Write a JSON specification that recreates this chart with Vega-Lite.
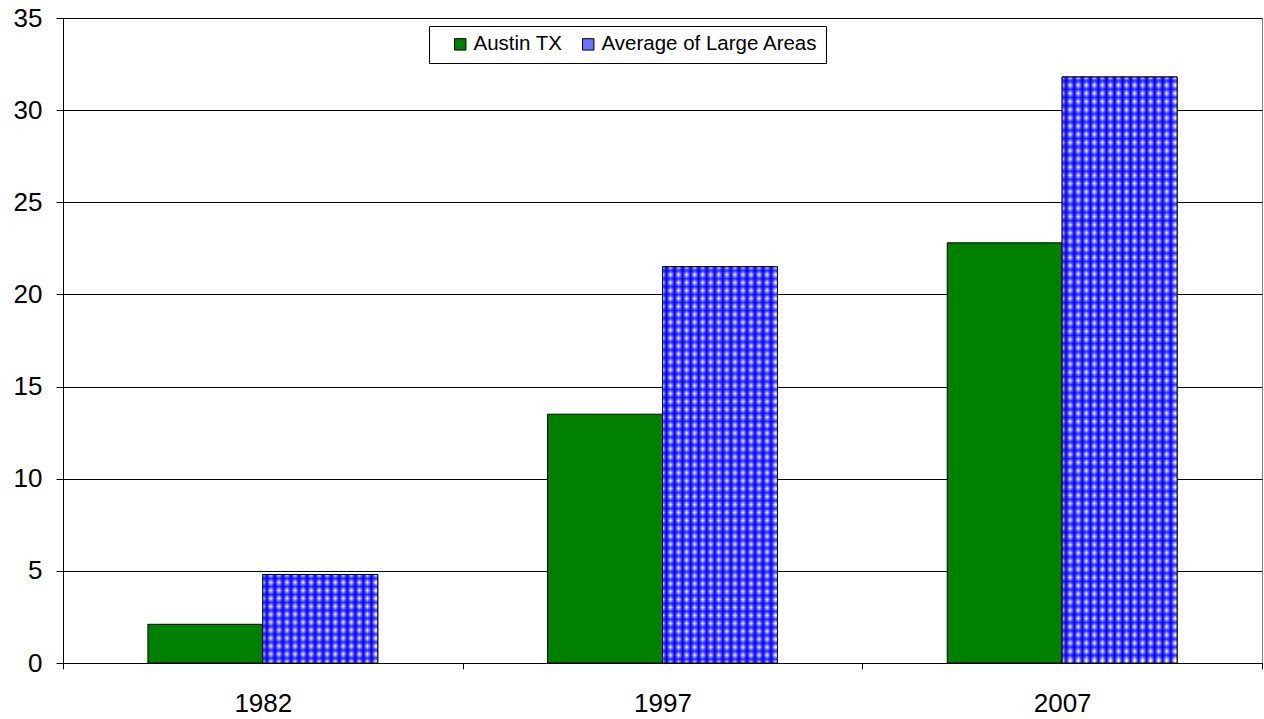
{
  "$schema": "https://vega.github.io/schema/vega-lite/v6.json",
  "width": 1199,
  "height": 645,
  "autosize": {"type": "none"},
  "padding": {"left": 63, "top": 18, "right": 2, "bottom": 56},
  "background": "white",
  "config": {
    "font": "Liberation Sans",
    "view": {"stroke": "#808080", "strokeWidth": 1}
  },
  "data": {
    "values": [
      {"year": "1982", "series": "Austin TX", "value": 2.1},
      {"year": "1982", "series": "Average of Large Areas", "value": 4.8},
      {"year": "1997", "series": "Austin TX", "value": 13.5},
      {"year": "1997", "series": "Average of Large Areas", "value": 21.5},
      {"year": "2007", "series": "Austin TX", "value": 22.8},
      {"year": "2007", "series": "Average of Large Areas", "value": 31.8}
    ]
  },
  "encoding": {
    "x": {
      "field": "year", "type": "nominal",
      "scale": {"paddingInner": 0, "paddingOuter": 0},
      "axis": {
        "title": null, "labelAngle": 0, "labelFontSize": 26, "labelColor": "black",
        "labelPadding": 21, "tickBand": "extent", "tickSize": 6, "tickColor": "black",
        "domainColor": "black", "grid": false
      }
    },
    "xOffset": {
      "field": "series", "type": "nominal",
      "scale": {"paddingInner": 0, "paddingOuter": 0.739}
    },
    "y": {
      "field": "value", "type": "quantitative",
      "scale": {"domain": [0, 35], "nice": false},
      "axis": {
        "title": null, "values": [0, 5, 10, 15, 20, 25, 30, 35],
        "labelFontSize": 26, "labelColor": "black", "labelPadding": 14,
        "tickSize": 7, "tickColor": "black", "domainColor": "black",
        "grid": true, "gridColor": "black", "gridOpacity": 1, "gridWidth": 1
      }
    }
  },
  "layer": [
    {
      "mark": {"type": "bar", "stroke": "black", "strokeWidth": 1},
      "encoding": {
        "fill": {
          "field": "series", "type": "nominal",
          "scale": {"range": ["#008000", "#7070ff"]},
          "legend": {
            "title": null, "orient": "none", "legendX": 366, "legendY": 8,
            "direction": "horizontal", "strokeColor": "black", "fillColor": "white",
            "padding": 8, "symbolOffset": 13, "columnPadding": 2,
            "symbolType": "square", "symbolSize": 130, "symbolStrokeColor": "black",
            "symbolStrokeWidth": 1, "labelFontSize": 20.5, "labelColor": "black",
            "labelOffset": 3, "labelFont": "Liberation Sans", "labelLimit": 600,
            "labelExpr": "datum.label === 'Average of Large Areas' ? datum.label + '\u00a0\u00a0\u00a0\u00a0' : datum.label"
          }
        }
      }
    },
    {
      "transform": [{"filter": "datum.series === 'Average of Large Areas'"}],
      "mark": {
        "type": "bar",
        "fill": {
          "gradient": "linear", "x1": 0, "y1": 0, "x2": 1, "y2": 0,
          "stops": [
            {"offset": 0, "color": "#fff"}, {"offset": 0.035, "color": "#00f"},
            {"offset": 0.07, "color": "#fff"}, {"offset": 0.105, "color": "#00f"},
            {"offset": 0.14, "color": "#fff"}, {"offset": 0.175, "color": "#00f"},
            {"offset": 0.21, "color": "#fff"}, {"offset": 0.245, "color": "#00f"},
            {"offset": 0.28, "color": "#fff"}, {"offset": 0.315, "color": "#00f"},
            {"offset": 0.35, "color": "#fff"}, {"offset": 0.385, "color": "#00f"},
            {"offset": 0.42, "color": "#fff"}, {"offset": 0.455, "color": "#00f"},
            {"offset": 0.49, "color": "#fff"}, {"offset": 0.525, "color": "#00f"},
            {"offset": 0.56, "color": "#fff"}, {"offset": 0.595, "color": "#00f"},
            {"offset": 0.63, "color": "#fff"}, {"offset": 0.665, "color": "#00f"},
            {"offset": 0.7, "color": "#fff"}, {"offset": 0.735, "color": "#00f"},
            {"offset": 0.77, "color": "#fff"}, {"offset": 0.805, "color": "#00f"},
            {"offset": 0.84, "color": "#fff"}, {"offset": 0.875, "color": "#00f"},
            {"offset": 0.91, "color": "#fff"}, {"offset": 0.945, "color": "#00f"},
            {"offset": 0.98, "color": "#fff"}
          ]
        }
      }
    },
    {
      "transform": [{"filter": "datum.series === 'Average of Large Areas' && datum.year === '1982'"}],
      "mark": {
        "type": "bar", "fillOpacity": 0.8,
        "fill": {
          "gradient": "linear", "x1": 0, "y1": 0, "x2": 0, "y2": 1,
          "stops": [
            {"offset": 0, "color": "rgba(0,0,255,0)"}, {"offset": 0.045, "color": "#00f"},
            {"offset": 0.09, "color": "rgba(0,0,255,0)"}, {"offset": 0.135, "color": "#00f"},
            {"offset": 0.18, "color": "rgba(0,0,255,0)"}, {"offset": 0.225, "color": "#00f"},
            {"offset": 0.27, "color": "rgba(0,0,255,0)"}, {"offset": 0.315, "color": "#00f"},
            {"offset": 0.36, "color": "rgba(0,0,255,0)"}, {"offset": 0.405, "color": "#00f"},
            {"offset": 0.45, "color": "rgba(0,0,255,0)"}, {"offset": 0.495, "color": "#00f"},
            {"offset": 0.54, "color": "rgba(0,0,255,0)"}, {"offset": 0.585, "color": "#00f"},
            {"offset": 0.63, "color": "rgba(0,0,255,0)"}, {"offset": 0.675, "color": "#00f"},
            {"offset": 0.72, "color": "rgba(0,0,255,0)"}, {"offset": 0.765, "color": "#00f"},
            {"offset": 0.81, "color": "rgba(0,0,255,0)"}, {"offset": 0.855, "color": "#00f"},
            {"offset": 0.9, "color": "rgba(0,0,255,0)"}, {"offset": 0.945, "color": "#00f"},
            {"offset": 0.99, "color": "rgba(0,0,255,0)"}
          ]
        }
      }
    },
    {
      "transform": [{"filter": "datum.series === 'Average of Large Areas' && datum.year === '1997'"}],
      "mark": {
        "type": "bar", "fillOpacity": 0.8,
        "fill": {
          "gradient": "linear", "x1": 0, "y1": 0, "x2": 0, "y2": 1,
          "stops": [
            {"offset": 0, "color": "rgba(0,0,255,0)"}, {"offset": 0.01, "color": "#00f"},
            {"offset": 0.02, "color": "rgba(0,0,255,0)"}, {"offset": 0.03, "color": "#00f"},
            {"offset": 0.04, "color": "rgba(0,0,255,0)"}, {"offset": 0.05, "color": "#00f"},
            {"offset": 0.06, "color": "rgba(0,0,255,0)"}, {"offset": 0.07, "color": "#00f"},
            {"offset": 0.08, "color": "rgba(0,0,255,0)"}, {"offset": 0.09, "color": "#00f"},
            {"offset": 0.1, "color": "rgba(0,0,255,0)"}, {"offset": 0.11, "color": "#00f"},
            {"offset": 0.12, "color": "rgba(0,0,255,0)"}, {"offset": 0.13, "color": "#00f"},
            {"offset": 0.14, "color": "rgba(0,0,255,0)"}, {"offset": 0.15, "color": "#00f"},
            {"offset": 0.16, "color": "rgba(0,0,255,0)"}, {"offset": 0.17, "color": "#00f"},
            {"offset": 0.18, "color": "rgba(0,0,255,0)"}, {"offset": 0.19, "color": "#00f"},
            {"offset": 0.2, "color": "rgba(0,0,255,0)"}, {"offset": 0.21, "color": "#00f"},
            {"offset": 0.22, "color": "rgba(0,0,255,0)"}, {"offset": 0.23, "color": "#00f"},
            {"offset": 0.24, "color": "rgba(0,0,255,0)"}, {"offset": 0.25, "color": "#00f"},
            {"offset": 0.26, "color": "rgba(0,0,255,0)"}, {"offset": 0.27, "color": "#00f"},
            {"offset": 0.28, "color": "rgba(0,0,255,0)"}, {"offset": 0.29, "color": "#00f"},
            {"offset": 0.3, "color": "rgba(0,0,255,0)"}, {"offset": 0.31, "color": "#00f"},
            {"offset": 0.32, "color": "rgba(0,0,255,0)"}, {"offset": 0.33, "color": "#00f"},
            {"offset": 0.34, "color": "rgba(0,0,255,0)"}, {"offset": 0.35, "color": "#00f"},
            {"offset": 0.36, "color": "rgba(0,0,255,0)"}, {"offset": 0.37, "color": "#00f"},
            {"offset": 0.38, "color": "rgba(0,0,255,0)"}, {"offset": 0.39, "color": "#00f"},
            {"offset": 0.4, "color": "rgba(0,0,255,0)"}, {"offset": 0.41, "color": "#00f"},
            {"offset": 0.42, "color": "rgba(0,0,255,0)"}, {"offset": 0.43, "color": "#00f"},
            {"offset": 0.44, "color": "rgba(0,0,255,0)"}, {"offset": 0.45, "color": "#00f"},
            {"offset": 0.46, "color": "rgba(0,0,255,0)"}, {"offset": 0.47, "color": "#00f"},
            {"offset": 0.48, "color": "rgba(0,0,255,0)"}, {"offset": 0.49, "color": "#00f"},
            {"offset": 0.5, "color": "rgba(0,0,255,0)"}, {"offset": 0.51, "color": "#00f"},
            {"offset": 0.52, "color": "rgba(0,0,255,0)"}, {"offset": 0.53, "color": "#00f"},
            {"offset": 0.54, "color": "rgba(0,0,255,0)"}, {"offset": 0.55, "color": "#00f"},
            {"offset": 0.56, "color": "rgba(0,0,255,0)"}, {"offset": 0.57, "color": "#00f"},
            {"offset": 0.58, "color": "rgba(0,0,255,0)"}, {"offset": 0.59, "color": "#00f"},
            {"offset": 0.6, "color": "rgba(0,0,255,0)"}, {"offset": 0.61, "color": "#00f"},
            {"offset": 0.62, "color": "rgba(0,0,255,0)"}, {"offset": 0.63, "color": "#00f"},
            {"offset": 0.64, "color": "rgba(0,0,255,0)"}, {"offset": 0.65, "color": "#00f"},
            {"offset": 0.66, "color": "rgba(0,0,255,0)"}, {"offset": 0.67, "color": "#00f"},
            {"offset": 0.68, "color": "rgba(0,0,255,0)"}, {"offset": 0.69, "color": "#00f"},
            {"offset": 0.7, "color": "rgba(0,0,255,0)"}, {"offset": 0.71, "color": "#00f"},
            {"offset": 0.72, "color": "rgba(0,0,255,0)"}, {"offset": 0.73, "color": "#00f"},
            {"offset": 0.74, "color": "rgba(0,0,255,0)"}, {"offset": 0.75, "color": "#00f"},
            {"offset": 0.76, "color": "rgba(0,0,255,0)"}, {"offset": 0.77, "color": "#00f"},
            {"offset": 0.78, "color": "rgba(0,0,255,0)"}, {"offset": 0.79, "color": "#00f"},
            {"offset": 0.8, "color": "rgba(0,0,255,0)"}, {"offset": 0.81, "color": "#00f"},
            {"offset": 0.82, "color": "rgba(0,0,255,0)"}, {"offset": 0.83, "color": "#00f"},
            {"offset": 0.84, "color": "rgba(0,0,255,0)"}, {"offset": 0.85, "color": "#00f"},
            {"offset": 0.86, "color": "rgba(0,0,255,0)"}, {"offset": 0.87, "color": "#00f"},
            {"offset": 0.88, "color": "rgba(0,0,255,0)"}, {"offset": 0.89, "color": "#00f"},
            {"offset": 0.9, "color": "rgba(0,0,255,0)"}, {"offset": 0.91, "color": "#00f"},
            {"offset": 0.92, "color": "rgba(0,0,255,0)"}, {"offset": 0.93, "color": "#00f"},
            {"offset": 0.94, "color": "rgba(0,0,255,0)"}, {"offset": 0.95, "color": "#00f"},
            {"offset": 0.96, "color": "rgba(0,0,255,0)"}, {"offset": 0.97, "color": "#00f"},
            {"offset": 0.98, "color": "rgba(0,0,255,0)"}, {"offset": 0.99, "color": "#00f"},
            {"offset": 1, "color": "rgba(0,0,255,0)"}
          ]
        }
      }
    },
    {
      "transform": [{"filter": "datum.series === 'Average of Large Areas' && datum.year === '2007'"}],
      "mark": {
        "type": "bar", "fillOpacity": 0.8,
        "fill": {
          "gradient": "linear", "x1": 0, "y1": 0, "x2": 0, "y2": 1,
          "stops": [
            {"offset": 0, "color": "rgba(0,0,255,0)"}, {"offset": 0.007, "color": "#00f"},
            {"offset": 0.014, "color": "rgba(0,0,255,0)"}, {"offset": 0.021, "color": "#00f"},
            {"offset": 0.028, "color": "rgba(0,0,255,0)"}, {"offset": 0.035, "color": "#00f"},
            {"offset": 0.042, "color": "rgba(0,0,255,0)"}, {"offset": 0.049, "color": "#00f"},
            {"offset": 0.056, "color": "rgba(0,0,255,0)"}, {"offset": 0.063, "color": "#00f"},
            {"offset": 0.07, "color": "rgba(0,0,255,0)"}, {"offset": 0.077, "color": "#00f"},
            {"offset": 0.084, "color": "rgba(0,0,255,0)"}, {"offset": 0.091, "color": "#00f"},
            {"offset": 0.098, "color": "rgba(0,0,255,0)"}, {"offset": 0.105, "color": "#00f"},
            {"offset": 0.112, "color": "rgba(0,0,255,0)"}, {"offset": 0.119, "color": "#00f"},
            {"offset": 0.126, "color": "rgba(0,0,255,0)"}, {"offset": 0.133, "color": "#00f"},
            {"offset": 0.14, "color": "rgba(0,0,255,0)"}, {"offset": 0.147, "color": "#00f"},
            {"offset": 0.154, "color": "rgba(0,0,255,0)"}, {"offset": 0.161, "color": "#00f"},
            {"offset": 0.168, "color": "rgba(0,0,255,0)"}, {"offset": 0.175, "color": "#00f"},
            {"offset": 0.182, "color": "rgba(0,0,255,0)"}, {"offset": 0.189, "color": "#00f"},
            {"offset": 0.196, "color": "rgba(0,0,255,0)"}, {"offset": 0.203, "color": "#00f"},
            {"offset": 0.21, "color": "rgba(0,0,255,0)"}, {"offset": 0.217, "color": "#00f"},
            {"offset": 0.224, "color": "rgba(0,0,255,0)"}, {"offset": 0.231, "color": "#00f"},
            {"offset": 0.238, "color": "rgba(0,0,255,0)"}, {"offset": 0.245, "color": "#00f"},
            {"offset": 0.252, "color": "rgba(0,0,255,0)"}, {"offset": 0.259, "color": "#00f"},
            {"offset": 0.266, "color": "rgba(0,0,255,0)"}, {"offset": 0.273, "color": "#00f"},
            {"offset": 0.28, "color": "rgba(0,0,255,0)"}, {"offset": 0.287, "color": "#00f"},
            {"offset": 0.294, "color": "rgba(0,0,255,0)"}, {"offset": 0.301, "color": "#00f"},
            {"offset": 0.308, "color": "rgba(0,0,255,0)"}, {"offset": 0.315, "color": "#00f"},
            {"offset": 0.322, "color": "rgba(0,0,255,0)"}, {"offset": 0.329, "color": "#00f"},
            {"offset": 0.336, "color": "rgba(0,0,255,0)"}, {"offset": 0.343, "color": "#00f"},
            {"offset": 0.35, "color": "rgba(0,0,255,0)"}, {"offset": 0.357, "color": "#00f"},
            {"offset": 0.364, "color": "rgba(0,0,255,0)"}, {"offset": 0.371, "color": "#00f"},
            {"offset": 0.378, "color": "rgba(0,0,255,0)"}, {"offset": 0.385, "color": "#00f"},
            {"offset": 0.392, "color": "rgba(0,0,255,0)"}, {"offset": 0.399, "color": "#00f"},
            {"offset": 0.406, "color": "rgba(0,0,255,0)"}, {"offset": 0.413, "color": "#00f"},
            {"offset": 0.42, "color": "rgba(0,0,255,0)"}, {"offset": 0.427, "color": "#00f"},
            {"offset": 0.434, "color": "rgba(0,0,255,0)"}, {"offset": 0.441, "color": "#00f"},
            {"offset": 0.448, "color": "rgba(0,0,255,0)"}, {"offset": 0.455, "color": "#00f"},
            {"offset": 0.462, "color": "rgba(0,0,255,0)"}, {"offset": 0.469, "color": "#00f"},
            {"offset": 0.476, "color": "rgba(0,0,255,0)"}, {"offset": 0.483, "color": "#00f"},
            {"offset": 0.49, "color": "rgba(0,0,255,0)"}, {"offset": 0.497, "color": "#00f"},
            {"offset": 0.504, "color": "rgba(0,0,255,0)"}, {"offset": 0.511, "color": "#00f"},
            {"offset": 0.518, "color": "rgba(0,0,255,0)"}, {"offset": 0.525, "color": "#00f"},
            {"offset": 0.532, "color": "rgba(0,0,255,0)"}, {"offset": 0.539, "color": "#00f"},
            {"offset": 0.546, "color": "rgba(0,0,255,0)"}, {"offset": 0.553, "color": "#00f"},
            {"offset": 0.56, "color": "rgba(0,0,255,0)"}, {"offset": 0.567, "color": "#00f"},
            {"offset": 0.574, "color": "rgba(0,0,255,0)"}, {"offset": 0.581, "color": "#00f"},
            {"offset": 0.588, "color": "rgba(0,0,255,0)"}, {"offset": 0.595, "color": "#00f"},
            {"offset": 0.602, "color": "rgba(0,0,255,0)"}, {"offset": 0.609, "color": "#00f"},
            {"offset": 0.616, "color": "rgba(0,0,255,0)"}, {"offset": 0.623, "color": "#00f"},
            {"offset": 0.63, "color": "rgba(0,0,255,0)"}, {"offset": 0.637, "color": "#00f"},
            {"offset": 0.644, "color": "rgba(0,0,255,0)"}, {"offset": 0.651, "color": "#00f"},
            {"offset": 0.658, "color": "rgba(0,0,255,0)"}, {"offset": 0.665, "color": "#00f"},
            {"offset": 0.672, "color": "rgba(0,0,255,0)"}, {"offset": 0.679, "color": "#00f"},
            {"offset": 0.686, "color": "rgba(0,0,255,0)"}, {"offset": 0.693, "color": "#00f"},
            {"offset": 0.7, "color": "rgba(0,0,255,0)"}, {"offset": 0.707, "color": "#00f"},
            {"offset": 0.714, "color": "rgba(0,0,255,0)"}, {"offset": 0.721, "color": "#00f"},
            {"offset": 0.728, "color": "rgba(0,0,255,0)"}, {"offset": 0.735, "color": "#00f"},
            {"offset": 0.742, "color": "rgba(0,0,255,0)"}, {"offset": 0.749, "color": "#00f"},
            {"offset": 0.756, "color": "rgba(0,0,255,0)"}, {"offset": 0.763, "color": "#00f"},
            {"offset": 0.77, "color": "rgba(0,0,255,0)"}, {"offset": 0.777, "color": "#00f"},
            {"offset": 0.784, "color": "rgba(0,0,255,0)"}, {"offset": 0.791, "color": "#00f"},
            {"offset": 0.798, "color": "rgba(0,0,255,0)"}, {"offset": 0.805, "color": "#00f"},
            {"offset": 0.812, "color": "rgba(0,0,255,0)"}, {"offset": 0.819, "color": "#00f"},
            {"offset": 0.826, "color": "rgba(0,0,255,0)"}, {"offset": 0.833, "color": "#00f"},
            {"offset": 0.84, "color": "rgba(0,0,255,0)"}, {"offset": 0.847, "color": "#00f"},
            {"offset": 0.854, "color": "rgba(0,0,255,0)"}, {"offset": 0.861, "color": "#00f"},
            {"offset": 0.868, "color": "rgba(0,0,255,0)"}, {"offset": 0.875, "color": "#00f"},
            {"offset": 0.882, "color": "rgba(0,0,255,0)"}, {"offset": 0.889, "color": "#00f"},
            {"offset": 0.896, "color": "rgba(0,0,255,0)"}, {"offset": 0.903, "color": "#00f"},
            {"offset": 0.91, "color": "rgba(0,0,255,0)"}, {"offset": 0.917, "color": "#00f"},
            {"offset": 0.924, "color": "rgba(0,0,255,0)"}, {"offset": 0.931, "color": "#00f"},
            {"offset": 0.938, "color": "rgba(0,0,255,0)"}, {"offset": 0.945, "color": "#00f"},
            {"offset": 0.952, "color": "rgba(0,0,255,0)"}, {"offset": 0.959, "color": "#00f"},
            {"offset": 0.966, "color": "rgba(0,0,255,0)"}, {"offset": 0.973, "color": "#00f"},
            {"offset": 0.98, "color": "rgba(0,0,255,0)"}, {"offset": 0.987, "color": "#00f"},
            {"offset": 0.994, "color": "rgba(0,0,255,0)"}
          ]
        }
      }
    },
    {
      "transform": [{"filter": "datum.series === 'Average of Large Areas'"}],
      "mark": {"type": "bar", "fill": "transparent", "stroke": "black", "strokeWidth": 1}
    }
  ]
}
